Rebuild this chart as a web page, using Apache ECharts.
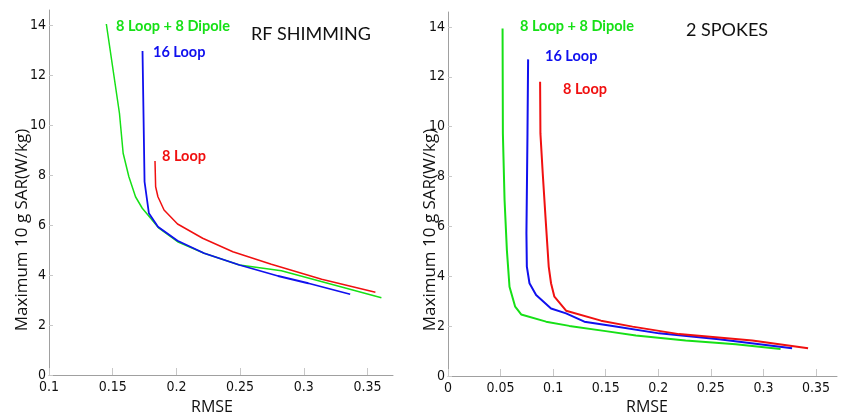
<!DOCTYPE html>
<html><head><meta charset="utf-8">
<script src="https://cdn.jsdelivr.net/npm/echarts@6/dist/echarts.min.js"></script>
<style>html,body{margin:0;padding:0;background:#fff}#c{width:844px;height:417px}</style>
</head><body><div id="c"></div>
<script>
// ---- data (RMSE, max 10 g SAR) ----
var rfGreen = [[0.145,14.04],[0.1553,10.47],[0.1582,8.87],[0.1627,7.93],[0.1679,7.13],[0.1732,6.67],[0.1798,6.27],[0.1863,5.87],[0.2009,5.33],[0.2218,4.87],[0.2495,4.4],[0.2824,4.17],[0.3609,3.09]];
var rfBlue  = [[0.1734,12.96],[0.1740,11.0],[0.1750,7.73],[0.1784,6.47],[0.1855,5.93],[0.2009,5.37],[0.2218,4.87],[0.2495,4.4],[0.2798,3.96],[0.3035,3.67],[0.3364,3.23]];
var rfRed   = [[0.1832,8.56],[0.1837,7.53],[0.1855,7.13],[0.1903,6.6],[0.2009,6.04],[0.2206,5.47],[0.2443,4.93],[0.2745,4.43],[0.314,3.83],[0.3562,3.31]];
var spGreen = [[0.0519,13.94],[0.0522,9.73],[0.0538,7.06],[0.056,5.05],[0.0585,3.58],[0.0639,2.78],[0.0696,2.47],[0.0933,2.18],[0.1154,2.01],[0.150,1.80],[0.1787,1.62],[0.226,1.42],[0.2736,1.27],[0.3163,1.08]];
var spBlue  = [[0.0762,12.7],[0.0756,9.73],[0.0746,5.72],[0.075,4.39],[0.0775,3.72],[0.0838,3.25],[0.098,2.71],[0.1123,2.51],[0.1297,2.18],[0.1565,2.01],[0.2008,1.71],[0.2577,1.47],[0.3273,1.11]];
var spRed   = [[0.0876,11.8],[0.0879,9.73],[0.0901,8.13],[0.0927,6.39],[0.0958,4.39],[0.098,3.72],[0.1012,3.18],[0.1123,2.62],[0.1455,2.22],[0.1755,1.98],[0.2198,1.68],[0.2894,1.42],[0.3425,1.11]];
var xTicksLeft  = [0.1,0.15,0.2,0.25,0.3,0.35];
var xTicksRight = [0,0.05,0.1,0.15,0.2,0.25,0.3,0.35];
var yTicks = [0,2,4,6,8,10,12,14];
var seriesNames = ['8 Loop + 8 Dipole','16 Loop','8 Loop'];
var panelTitles = ['RF SHIMMING','2 SPOKES'];
var yName = 'Maximum 10 g SAR(W/kg)';
var xName = 'RMSE';

var GREEN='#16e016', BLUE='#1010ee', RED='#f01010';
var axisGray='#a0a0a0';
var tickFont = {fontFamily:'DejaVu Sans Condensed', fontSize:14, color:'#111'};

function xAxis(idx,min,ticks){
  return {type:'value', gridIndex:idx, min:min, max:0.37, interval:0.05,
    axisLine:{show:true,onZero:false,lineStyle:{color:axisGray}},
    axisTick:{show:true,inside:true,length:7,customValues:ticks,lineStyle:{color:'#c8c8c8'}},
    axisLabel:Object.assign({customValues:ticks,margin:5,formatter:function(v){return String(+v.toFixed(2));}},tickFont),
    splitLine:{show:false}};
}
function yAxis(idx){
  return {type:'value', gridIndex:idx, min:0, max:14.6, interval:2,
    axisLine:{show:true,lineStyle:{color:axisGray}},
    axisTick:{show:true,inside:true,length:4,customValues:yTicks,lineStyle:{color:'#c8c8c8'}},
    axisLabel:Object.assign({customValues:yTicks,margin:3},tickFont),
    splitLine:{show:false}};
}
function line(name,data,color,xi,w){
  return {type:'line',name:name,xAxisIndex:xi,yAxisIndex:xi,data:data,symbol:'none',
    lineStyle:{color:color,width:w},itemStyle:{color:color},z:2};
}
function txt(x,y,s,color,size,weight,font){
  return {type:'text',x:x,y:y,style:{text:s,fill:color,font:(weight||'normal')+' '+size+'px '+(font||'Lato'),textAlign:'left',textVerticalAlign:'middle'}};
}
var chart = echarts.init(document.getElementById('c'),null,{renderer:'canvas'});
chart.setOption({
  animation:false,
  grid:[{left:49,top:10,width:344,height:365},{left:448,top:12,width:389,height:364}],
  xAxis:[xAxis(0,0.1,xTicksLeft),xAxis(1,0,xTicksRight)],
  yAxis:[yAxis(0),yAxis(1)],
  series:[
    line(seriesNames[0],rfGreen,GREEN,0,1.5),line(seriesNames[1],rfBlue,BLUE,0,1.8),line(seriesNames[2],rfRed,RED,0,1.5),
    line(seriesNames[0],spGreen,GREEN,1,2),line(seriesNames[1],spBlue,BLUE,1,2),line(seriesNames[2],spRed,RED,1,2)
  ],
  graphic:[
    txt(116,26,seriesNames[0],GREEN,14.5,'bold'),
    txt(153,52,seriesNames[1],BLUE,14.5,'bold'),
    txt(162,156,seriesNames[2],RED,14.5,'bold'),
    txt(251,34,panelTitles[0],'#111',18,'normal'),
    txt(520,26,seriesNames[0],GREEN,14.5,'bold'),
    txt(545,56,seriesNames[1],BLUE,14.5,'bold'),
    txt(563,89,seriesNames[2],RED,14.5,'bold'),
    txt(686,30,panelTitles[1],'#111',18,'normal'),
    {type:'text',x:22,y:230,rotation:Math.PI/2,style:{text:yName,fill:'#111',font:'17px Open Sans',textAlign:'center',textVerticalAlign:'middle'}},
    {type:'text',x:430,y:230,rotation:Math.PI/2,style:{text:yName,fill:'#111',font:'17px Open Sans',textAlign:'center',textVerticalAlign:'middle'}},
    {type:'text',x:212,y:407,style:{text:xName,fill:'#111',font:'16px Open Sans',textAlign:'center',textVerticalAlign:'middle'}},
    {type:'text',x:647,y:407,style:{text:xName,fill:'#111',font:'16px Open Sans',textAlign:'center',textVerticalAlign:'middle'}}
  ]
});
</script></body></html>
